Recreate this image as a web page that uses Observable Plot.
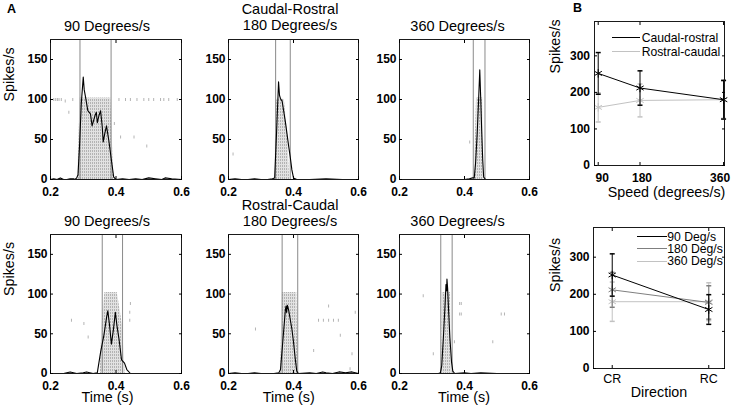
<!DOCTYPE html>
<html><head><meta charset="utf-8">
<script src="https://cdn.jsdelivr.net/npm/d3@7"></script>
<script src="https://cdn.jsdelivr.net/npm/@observablehq/plot@0.6"></script>
<style>
html,body{margin:0;padding:0;background:#fff;}
#fig{position:relative;width:732px;height:407px;overflow:hidden;font-family:"Liberation Sans",Arial,sans-serif;color:#000;background:#fff;}
.lbl{position:absolute;white-space:nowrap;line-height:1;}
</style></head><body>
<svg width="0" height="0" style="position:absolute"><defs>
<pattern id="raster" width="2" height="3" patternUnits="userSpaceOnUse"><rect width="2" height="3" fill="#e2e2e2"/><rect width="1" height="2" fill="#b3b3b3"/></pattern>
</defs></svg>
<div id="fig"></div>
<script>
// ---------- data ----------
const timeTicks = [0.2, 0.4, 0.6];
const rateTicks = [0, 50, 100, 150];
const speedTicks = [90, 180, 360];
const spikeTicks = [0, 100, 200, 300];
const directionTicks = [1, 2];
const directionLabels = ["CR", "RC"];

const panelTitles = ["90 Degrees/s", "Caudal-Rostral\n180 Degrees/s", "360 Degrees/s",
                     "90 Degrees/s", "Rostral-Caudal\n180 Degrees/s", "360 Degrees/s"];

// PSTH curves [time (s), spikes/s]
const psthCR90 = [[0.2,0],[0.21,1],[0.22,0],[0.23,2],[0.24,0],[0.25,0],[0.26,1],[0.27,1],[0.275,0],[0.28,2],[0.284,6],[0.289,45],[0.294,95],[0.3,128],[0.303,112],[0.307,103],[0.314,86],[0.322,82],[0.327,67],[0.336,80],[0.34,84],[0.343,71],[0.348,80],[0.353,86],[0.358,66],[0.361,47],[0.366,58],[0.371,67],[0.378,49],[0.386,24],[0.393,3],[0.4,0],[0.42,1],[0.44,0],[0.46,1],[0.48,0],[0.5,2],[0.52,1],[0.54,0],[0.55,2],[0.57,1],[0.6,0]];
const psthCR180 = [[0.2,0],[0.22,1],[0.24,0],[0.26,0],[0.28,1],[0.3,0],[0.32,0],[0.335,1],[0.342,2],[0.348,60],[0.354,122],[0.357,105],[0.36,101],[0.365,98],[0.37,85],[0.375,72],[0.38,57],[0.385,42],[0.39,28],[0.395,12],[0.4,2],[0.41,0],[0.45,0],[0.5,1],[0.55,0],[0.6,0]];
const psthCR360 = [[0.2,0],[0.3,0],[0.4,0],[0.415,1],[0.425,2],[0.43,2],[0.434,20],[0.439,57],[0.443,95],[0.447,137],[0.45,100],[0.453,60],[0.456,25],[0.459,3],[0.465,0],[0.5,0],[0.6,0]];
const psthRC90 = [[0.2,0],[0.22,0],[0.24,0],[0.26,2],[0.27,1],[0.28,0],[0.3,1],[0.31,2],[0.32,1],[0.33,0],[0.343,1],[0.353,27],[0.363,48],[0.371,70],[0.375,79],[0.38,62],[0.386,37],[0.392,55],[0.398,77],[0.403,60],[0.409,44],[0.417,17],[0.426,13],[0.433,5],[0.444,0],[0.45,0],[0.5,0],[0.6,0]];
const psthRC180 = [[0.2,0],[0.22,1],[0.24,0],[0.26,0],[0.28,1],[0.3,0],[0.32,0],[0.34,0],[0.355,1],[0.36,5],[0.365,30],[0.37,55],[0.375,80],[0.377,85],[0.379,77],[0.381,86],[0.385,80],[0.39,68],[0.395,56],[0.4,40],[0.405,20],[0.41,3],[0.415,0],[0.45,1],[0.47,0],[0.49,2],[0.5,1],[0.52,0],[0.54,2],[0.56,1],[0.58,2],[0.6,0]];
const psthRC360 = [[0.2,0],[0.3,0],[0.32,0],[0.326,1],[0.33,10],[0.335,45],[0.34,85],[0.343,112],[0.345,104],[0.346,119],[0.348,108],[0.351,80],[0.355,45],[0.36,15],[0.364,3],[0.37,0],[0.4,1],[0.42,0],[0.45,1],[0.5,0],[0.6,0]];

// dense raster envelope [time, top trial row (in spikes/s units)]
const rasterCR90 = [[0.283,0],[0.287,50],[0.29,102],[0.384,102],[0.388,60],[0.393,0]];
const rasterCR180 = [[0.344,0],[0.345,95],[0.352,102],[0.372,100],[0.382,55],[0.388,0]];
const rasterCR360 = [[0.43,0],[0.434,60],[0.437,102],[0.456,102],[0.459,0]];
const rasterRC90 = [[0.352,0],[0.357,60],[0.366,102],[0.404,102],[0.42,60],[0.428,0]];
const rasterRC180 = [[0.36,0],[0.366,102],[0.41,102],[0.414,0]];
const rasterRC360 = [[0.33,0],[0.332,102],[0.357,102],[0.36,0]];

// isolated raster spikes [time, row]
const spikesCR90 = [[0.21,100],[0.216,100],[0.221,100],[0.226,100],[0.233,100],[0.245,98],[0.256,84],[0.268,100],[0.395,70],[0.409,100],[0.414,53],[0.429,100],[0.444,100],[0.455,53],[0.464,100],[0.485,100],[0.494,42],[0.5,100],[0.515,100],[0.536,100],[0.546,100],[0.561,100],[0.587,100]];
const spikesCR180 = [[0.214,32]];
const spikesCR360 = [[0.416,47]];
const spikesRC90 = [[0.264,67],[0.302,63],[0.315,46],[0.442,67],[0.444,88],[0.442,77]];
const spikesRC180 = [[0.283,56],[0.477,67],[0.492,67],[0.508,67],[0.523,67],[0.538,67],[0.508,85],[0.59,77],[0.544,48],[0.462,29],[0.58,25],[0.574,6]];
const spikesRC360 = [[0.273,98],[0.304,25],[0.369,40],[0.385,88],[0.39,88],[0.385,75],[0.39,75],[0.487,40],[0.513,75],[0.523,75]];

// stimulus on/off times (s)
const stimCR90 = [0.29, 0.385], stimCR180 = [0.345, 0.39], stimCR360 = [0.427, 0.463];
const stimRC90 = [0.358, 0.42], stimRC180 = [0.365, 0.413], stimRC360 = [0.327, 0.362];

// Panel B: mean peak rate and error
const seriesB1 = ["Caudal-rostral", "Rostral-caudal"];
const crMean = [252, 212, 180], crErr = [57, 47, 53];
const rcMean = [159, 178, 180], rcErr = [40, 45, 51];
const seriesB2 = ["90 Deg/s", "180 Deg/s", "360 Deg/s"];

// ---------- drawing ----------
const fig = document.getElementById("fig");
const FONT = "'Liberation Sans', Arial, Helvetica, sans-serif";
const baseStyle = {background: "transparent", fontFamily: FONT, fontSize: "12px", maxWidth: "none", overflow: "visible", color: "#000"};
const vdash = {draw(ctx) { ctx.rect(-0.5, -1.5, 1, 3); }};
const hcap = {draw(ctx) { ctx.moveTo(-2.5, 0); ctx.lineTo(2.5, 0); }};
const M = {l: 52, r: 12, t: 42, b: 38};

function place(svg, left, top) {
  svg.style.position = "absolute";
  svg.style.left = left + "px";
  svg.style.top = top + "px";
  fig.appendChild(svg);
}

function tickFrame(xt, yt) {
  return [
    Plot.frame({stroke: "#1a1a1a"}),
    Plot.axisX(xt, {anchor: "bottom", tickSize: -3, fill: "none", label: null}),
    Plot.axisX(xt, {anchor: "top", tickSize: -3, fill: "none", label: null}),
    Plot.axisY(yt, {anchor: "left", tickSize: -3, fill: "none", label: null}),
    Plot.axisY(yt, {anchor: "right", tickSize: -3, fill: "none", label: null})
  ];
}
function xLabels(xt, opts) {
  return Plot.axisX(xt, {anchor: "bottom", tickSize: 0, label: null, fontWeight: "bold", fontSize: 12, ...opts});
}
function yLabels(yt, opts) {
  return Plot.axisY(yt, {anchor: "left", tickSize: 0, label: null, fontWeight: "bold", fontSize: 12, ...opts});
}

const psthPanels = [
  {psth: psthCR90, raster: rasterCR90, spikes: spikesCR90, stim: stimCR90, x0: 50, y0: 39, w: 131, h: 140, tdx: -9, tdy: -9, ylab: true},
  {psth: psthCR180, raster: rasterCR180, spikes: spikesCR180, stim: stimCR180, x0: 228, y0: 39, w: 130, h: 140, tdx: -3.5, tdy: -9.5},
  {psth: psthCR360, raster: rasterCR360, spikes: spikesCR360, stim: stimCR360, x0: 399, y0: 39, w: 130, h: 140, tdx: -7, tdy: -9},
  {psth: psthRC90, raster: rasterRC90, spikes: spikesRC90, stim: stimRC90, x0: 50, y0: 234, w: 131, h: 139, tdx: -9, tdy: -8.5, ylab: true, xlab: -8.5},
  {psth: psthRC180, raster: rasterRC180, spikes: spikesRC180, stim: stimRC180, x0: 228, y0: 234, w: 130, h: 139, tdx: -3.5, tdy: -9, xlab: -4.7},
  {psth: psthRC360, raster: rasterRC360, spikes: spikesRC360, stim: stimRC360, x0: 399, y0: 234, w: 130, h: 139, tdx: -7, tdy: -9, xlab: -0.5}
];

psthPanels.forEach((p, i) => {
  const marks = [
    Plot.areaY(p.raster, {x: d => d[0], y: d => d[1], fill: "url(#raster)", curve: "linear"}),
    Plot.dot(p.spikes, {x: d => d[0], y: d => d[1], symbol: vdash, fill: "#b4b4b4", stroke: "none"}),
    Plot.ruleX(p.stim, {x: d => d, stroke: "#8a8a8a", strokeWidth: 1}),
    Plot.line(p.psth, {x: d => d[0], y: d => d[1], stroke: "#000", strokeWidth: 1.1}),
    ...tickFrame(timeTicks, rateTicks),
    xLabels(timeTicks, {tickPadding: 8}),
    yLabels(rateTicks, {tickPadding: 3}),
    Plot.text([panelTitles[i]], {text: d => d, frameAnchor: "top", lineAnchor: "bottom", dx: p.tdx, dy: p.tdy, lineHeight: 1.08, fontSize: 14.5})
  ];
  if (p.ylab) marks.push(Plot.text(["Spikes/s"], {text: d => d, frameAnchor: "left", rotate: -90, dx: -40.6, dy: -8, fontSize: 14.3}));
  if (p.xlab !== undefined) marks.push(Plot.text(["Time (s)"], {text: d => d, frameAnchor: "bottom", lineAnchor: "bottom", dx: p.xlab, dy: 28.7, fontSize: 14.3}));
  const svg = Plot.plot({
    width: p.w + M.l + M.r, height: p.h + M.t + M.b,
    marginLeft: M.l, marginRight: M.r, marginTop: M.t, marginBottom: M.b,
    style: baseStyle,
    x: {domain: [0.2, 0.6]},
    y: {domain: [0, 175]},
    marks
  });
  place(svg, p.x0 - M.l, p.y0 - M.t);
});

function errSeries(tbl, xk, color) {
  return [
    Plot.ruleX(tbl, {x: xk, y1: d => d.mean - d.err, y2: d => d.mean + d.err, stroke: color, strokeWidth: 1}),
    Plot.dot(tbl, {x: xk, y: d => d.mean - d.err, symbol: hcap, stroke: color, fill: "none"}),
    Plot.dot(tbl, {x: xk, y: d => d.mean + d.err, symbol: hcap, stroke: color, fill: "none"}),
    Plot.line(tbl, {x: xk, y: "mean", stroke: color, strokeWidth: 1}),
    Plot.dot(tbl, {x: xk, y: "mean", symbol: "asterisk", r: 4, stroke: color, strokeWidth: 1})
  ];
}

const B1colors = ["#000000", "#c2c2c2"];
const B2colors = ["#000000", "#7f7f7f", "#c2c2c2"];

// B1: speed panel
{
  const cr = speedTicks.map((s, j) => ({speed: s, mean: crMean[j], err: crErr[j]}));
  const rc = speedTicks.map((s, j) => ({speed: s, mean: rcMean[j], err: rcErr[j]}));
  const x0 = 594, y0 = 21, w = 130, h = 144;
  const svg = Plot.plot({
    width: w + M.l + M.r, height: h + M.t + M.b,
    marginLeft: M.l, marginRight: M.r, marginTop: M.t, marginBottom: M.b,
    style: baseStyle,
    x: {domain: [82, 362]},
    y: {domain: [0, 394]},
    marks: [
      ...errSeries(rc, "speed", B1colors[1]),
      ...errSeries(cr, "speed", B1colors[0]),
      ...tickFrame(speedTicks, spikeTicks),
      xLabels(speedTicks.slice(0, 1), {tickPadding: 8, dx: 4}),
      xLabels(speedTicks.slice(1, 2), {tickPadding: 8, dx: 2}),
      xLabels(speedTicks.slice(2), {tickPadding: 8, dx: -3.5}),
      yLabels(spikeTicks, {tickPadding: 4.5}),
      Plot.text(["Spikes/s"], {text: d => d, frameAnchor: "left", rotate: -90, dx: -38.6, dy: -20, fontSize: 14.3}),
      Plot.text(["Speed (degrees/s)"], {text: d => d, frameAnchor: "bottom", lineAnchor: "bottom", dx: 7, dy: 31.7, fontSize: 14.3})
    ]
  });
  place(svg, x0 - M.l, y0 - M.t);
}

// B2: direction panel
{
  const series = [0, 1, 2].map(j => directionTicks.map((dIdx, k) => ({
    dir: dIdx,
    mean: k === 0 ? crMean[j] : rcMean[j],
    err: k === 0 ? crErr[j] : rcErr[j]
  })));
  const x0 = 593, y0 = 227, w = 131, h = 141;
  const svg = Plot.plot({
    width: w + M.l + M.r, height: h + M.t + M.b,
    marginLeft: M.l, marginRight: M.r, marginTop: M.t, marginBottom: M.b,
    style: baseStyle,
    x: {domain: [0.806, 2.163]},
    y: {domain: [0, 380]},
    marks: [
      ...errSeries(series[2], "dir", B2colors[2]),
      ...errSeries(series[1], "dir", B2colors[1]),
      ...errSeries(series[0], "dir", B2colors[0]),
      ...tickFrame(directionTicks, spikeTicks),
      xLabels(directionTicks, {tickPadding: 5.5, tickFormat: d => directionLabels[d - 1], fontWeight: "normal", fontSize: 12.5}),
      yLabels(spikeTicks, {tickPadding: 4}),
      Plot.text(["Spikes/s"], {text: d => d, frameAnchor: "left", rotate: -90, dx: -38, dy: -6, fontSize: 14.3}),
      Plot.text(["Direction"], {text: d => d, frameAnchor: "bottom", lineAnchor: "bottom", dx: 0, dy: 28.3, fontSize: 14.3})
    ]
  });
  place(svg, x0 - M.l, y0 - M.t);
}

// ---------- HTML overlays: panel letters and legends ----------
function label(text, x, baseline, size, opts = {}) {
  const d = document.createElement("div");
  d.className = "lbl";
  d.textContent = text;
  d.style.fontSize = size + "px";
  d.style.left = x + "px";
  d.style.top = (baseline - 0.8465 * size) + "px";
  if (opts.bold) d.style.fontWeight = "bold";
  fig.appendChild(d);
}
function legendLine(x1, x2, y, color) {
  const d = document.createElement("div");
  d.style.position = "absolute";
  d.style.left = x1 + "px";
  d.style.top = (y - 0.5) + "px";
  d.style.width = (x2 - x1) + "px";
  d.style.height = "1px";
  d.style.background = color;
  fig.appendChild(d);
}
label("A", 7, 13.5, 12.5, {bold: true});
label("B", 573, 12.5, 12.5, {bold: true});

const leg1Y = [37.7, 51.7];
seriesB1.forEach((s, j) => { legendLine(611.5, 639.5, leg1Y[j], B1colors[j]); label(s, 641.7, leg1Y[j] + 4.8, 12.2); });
const leg2Y = [236.7, 248.8, 261];
seriesB2.forEach((s, j) => { legendLine(637.3, 666.7, leg2Y[j], B2colors[j]); label(s, 667.3, leg2Y[j] + 4.8, 12.2); });
</script></body></html>
